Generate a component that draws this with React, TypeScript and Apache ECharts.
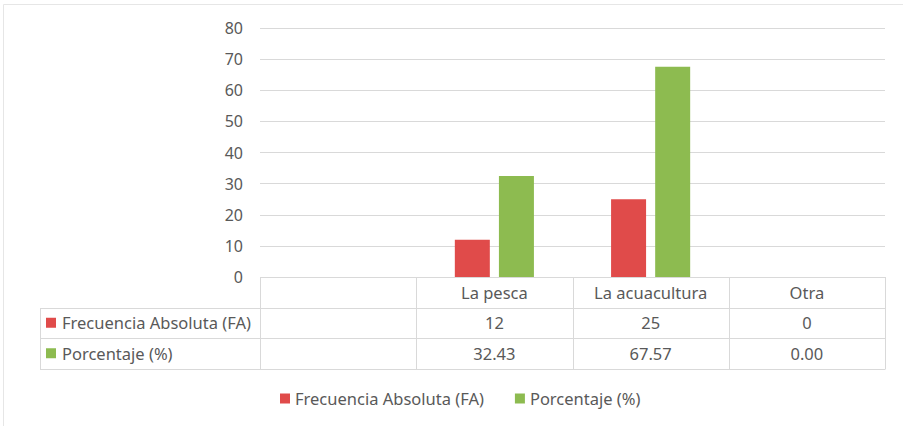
import React, { useEffect, useRef } from "react";
import * as echarts from "echarts";

const categories = ["", "La pesca", "La acuacultura", "Otra"];
const seriesNames = ["Frecuencia Absoluta (FA)", "Porcentaje (%)"];
const faValues: (number | null)[] = [null, 12, 25, 0];
const pctValues: (number | null)[] = [null, 32.43, 67.57, 0];
const faLabels = ["", "12", "25", "0"];
const pctLabels = ["", "32.43", "67.57", "0.00"];
const colors = ["#E04B4A", "#8DBB50"];

const W = 905;
const H = 426;
const GRID_LEFT = 260;
const GRID_RIGHT = 885;
const GRID_TOP = 28;
const GRID_BOTTOM = 277;
const ROW_H = 30.5;
const TABLE_LEFT = 40;
const FONT = "'Noto Sans', 'Open Sans', sans-serif";
const FS = 16.5;
const TXT = "#595959";
const LINE = "#D9D9D9";

export default function App() {
  const ref = useRef<HTMLDivElement>(null);
  useEffect(() => {
    if (!ref.current) return;
    const chart = echarts.init(ref.current, undefined, { renderer: "svg" });
    const catW = (GRID_RIGHT - GRID_LEFT) / categories.length;
    const rows = [faLabels, pctLabels];
    const graphics: any[] = [];
    graphics.push({
      type: "polyline",
      shape: { points: [[3.5, H], [3.5, 4.5], [W - 2, 4.5]] },
      style: { stroke: "#E6E6E6", lineWidth: 1, fill: null },
      silent: true,
    });
    const y0 = GRID_BOTTOM;
    const y1 = y0 + ROW_H;
    const y2 = y1 + ROW_H;
    const y3 = y2 + ROW_H;
    graphics.push({ type: "line", shape: { x1: GRID_LEFT, y1: y0 + 0.5, x2: GRID_RIGHT, y2: y0 + 0.5 }, style: { stroke: LINE, lineWidth: 1 } });
    [y1, y2, y3].forEach((y) => {
      graphics.push({ type: "line", shape: { x1: TABLE_LEFT, y1: Math.round(y) + 0.5, x2: GRID_RIGHT, y2: Math.round(y) + 0.5 }, style: { stroke: LINE, lineWidth: 1 } });
    });
    for (let i = 0; i <= categories.length; i++) {
      const x = Math.round(GRID_LEFT + i * catW) + 0.5;
      graphics.push({ type: "line", shape: { x1: x, y1: y0, x2: x, y2: Math.round(y3) + 0.5 }, style: { stroke: LINE, lineWidth: 1 } });
    }
    graphics.push({ type: "line", shape: { x1: TABLE_LEFT + 0.5, y1: Math.round(y1), x2: TABLE_LEFT + 0.5, y2: Math.round(y3) + 0.5 }, style: { stroke: LINE, lineWidth: 1 } });
    rows.forEach((row, r) => {
      const cy = y1 + ROW_H * r + ROW_H / 2;
      graphics.push({ type: "rect", shape: { x: 46, y: cy - 5, width: 10, height: 10 }, style: { fill: colors[r] } });
      graphics.push({
        type: "text",
        x: 62,
        y: cy,
        style: { text: seriesNames[r], fill: TXT, font: `${FS}px ${FONT}`, textVerticalAlign: "middle", textAlign: "left" },
      });
      row.forEach((v, i) => {
        if (!v) return;
        graphics.push({
          type: "text",
          x: GRID_LEFT + catW * (i + 0.5),
          y: cy,
          style: { text: v, fill: TXT, font: `${FS}px ${FONT}`, textVerticalAlign: "middle", textAlign: "center" },
        });
      });
    });

    chart.setOption({
      animation: false,
      backgroundColor: "#FFFFFF",
      textStyle: { fontFamily: FONT },
      grid: { left: GRID_LEFT, right: W - GRID_RIGHT, top: GRID_TOP, bottom: H - GRID_BOTTOM, containLabel: false },
      legend: {
        data: seriesNames,
        left: 275,
        top: 385,
        itemWidth: 10,
        itemHeight: 10,
        itemGap: 31,
        icon: "rect",
        textStyle: { color: TXT, fontSize: FS, fontFamily: FONT },
      },
      xAxis: {
        type: "category",
        data: categories,
        axisLine: { show: false },
        axisTick: { show: false },
        axisLabel: { color: TXT, fontSize: FS, fontFamily: FONT, margin: 7, interval: 0 },
      },
      yAxis: {
        type: "value",
        min: 0,
        max: 80,
        interval: 10,
        axisLine: { show: false },
        axisTick: { show: false },
        axisLabel: { color: TXT, fontSize: 16, fontFamily: FONT, margin: 17 },
        splitLine: { lineStyle: { color: LINE, width: 1 } },
      },
      series: [
        { name: seriesNames[0], type: "bar", data: faValues, barWidth: 35, barGap: "26%", itemStyle: { color: colors[0] } },
        { name: seriesNames[1], type: "bar", data: pctValues, barWidth: 35, barGap: "26%", itemStyle: { color: colors[1] } },
      ],
      graphic: graphics,
    });
    return () => chart.dispose();
  }, []);
  return <div ref={ref} style={{ position: "absolute", left: 0, top: 0, width: W, height: H }} />;
}
